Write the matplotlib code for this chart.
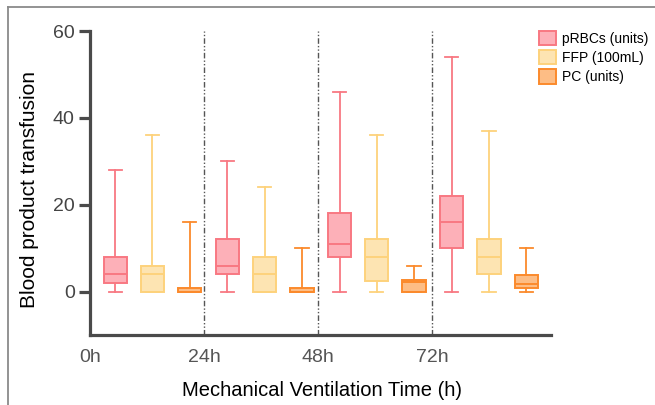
import matplotlib
matplotlib.use("Agg")
import matplotlib.pyplot as plt
from matplotlib.patches import Patch
from matplotlib.lines import Line2D

plt.rcParams['font.family'] = ['Liberation Sans', 'DejaVu Sans']

time_labels = ["0h", "24h", "48h", "72h"]
time_ticks = [0, 24, 48, 72]
series = ["pRBCs (units)", "FFP (100mL)", "PC (units)"]

# box stats per time point: whisker low, q1, median, q3, whisker high
prbc_lo = [0, 0, 0, 0]
prbc_q1 = [2, 4, 8, 10]
prbc_med = [4, 6, 11, 16]
prbc_q3 = [8, 12, 18, 22]
prbc_hi = [28, 30, 46, 54]

ffp_lo = [0, 0, 0, 0]
ffp_q1 = [0, 0, 2.5, 4]
ffp_med = [4, 4, 8, 8]
ffp_q3 = [6, 8, 12, 12]
ffp_hi = [36, 24, 36, 37]

pc_lo = [0, 0, 0, 0]
pc_q1 = [0, 0, 0, 0.85]
pc_med = [0, 0, 2.1, 1.8]
pc_q3 = [0.8, 0.8, 2.75, 3.75]
pc_hi = [16, 10, 6, 10]

stats = [
    (prbc_lo, prbc_q1, prbc_med, prbc_q3, prbc_hi),
    (ffp_lo, ffp_q1, ffp_med, ffp_q3, ffp_hi),
    (pc_lo, pc_q1, pc_med, pc_q3, pc_hi),
]
faces = ["#fdb0b8", "#fde4b2", "#fdbd85"]
edges = ["#f87882", "#fdd27c", "#fb8a2c"]

fig = plt.figure(figsize=(6.55, 4.05), dpi=100)
ax = fig.add_axes([90/655, 1-335/405, 461/655, 304/405])

group_step = 23.6
offsets = [5.3, 13.15, 21.0]

for s, (lo, q1, med, q3, hi) in enumerate(stats):
    boxes = []
    pos = []
    for g in range(4):
        boxes.append(dict(whislo=lo[g], q1=q1[g], med=med[g], q3=q3[g],
                          whishi=hi[g], fliers=[]))
        pos.append(offsets[s] + g*group_step)
    ax.bxp(boxes, positions=pos, widths=4.9, capwidths=2.8, patch_artist=True,
           showfliers=False,
           boxprops=dict(facecolor=faces[s], edgecolor=edges[s], linewidth=1.4),
           medianprops=dict(color=edges[s], linewidth=1.4),
           whiskerprops=dict(color=edges[s], linewidth=1.3),
           capprops=dict(color=edges[s], linewidth=1.3))

for t in time_ticks[1:]:
    ax.plot([t, t], [-10, 60], color="#555555", lw=1,
            linestyle=(0, (4, 1.5, 1, 1.5, 1, 1.5)), zorder=0)

ax.set_xlim(0, 97)
ax.set_ylim(-10, 60)
ax.set_yticks([0, 20, 40, 60])
ax.set_xticks(time_ticks)
ax.set_xticklabels(time_labels)

for side in ["top", "right"]:
    ax.spines[side].set_visible(False)
for side in ["left", "bottom"]:
    ax.spines[side].set_color("#4a4a4a")
    ax.spines[side].set_linewidth(2.3)
ax.tick_params(axis="y", length=8, width=2.3, color="#4a4a4a", pad=3,
               labelsize=14, labelcolor="#444444")
ax.tick_params(axis="x", length=0, pad=10, labelsize=14, labelcolor="#555555")

ax.set_xlabel("Mechanical Ventilation Time (h)", fontsize=14.5)
ax.set_ylabel("Blood product transfusion", fontsize=15)
ax.xaxis.set_label_coords(0.503, -0.15)
ax.yaxis.set_label_coords(-0.11, 0.48)

handles = [Patch(facecolor=faces[i], edgecolor=edges[i], linewidth=1.4) for i in range(3)]
fig.legend(handles, series, loc="upper left", bbox_to_anchor=(539/655, 1-31/405),
           frameon=False, fontsize=10, borderpad=0, borderaxespad=0,
           handlelength=1.22, handleheight=1.22, handletextpad=0.45,
           labelspacing=0.3)

# outer frame (left and top edges visible)
fig.add_artist(Line2D([8/655, 8/655], [0, 1-7/405], transform=fig.transFigure,
                      color="#8a8a8a", lw=1.3))
fig.add_artist(Line2D([8/655, 1], [1-7/405, 1-7/405], transform=fig.transFigure,
                      color="#8a8a8a", lw=1.3))

fig.savefig("out.png", dpi=100)
